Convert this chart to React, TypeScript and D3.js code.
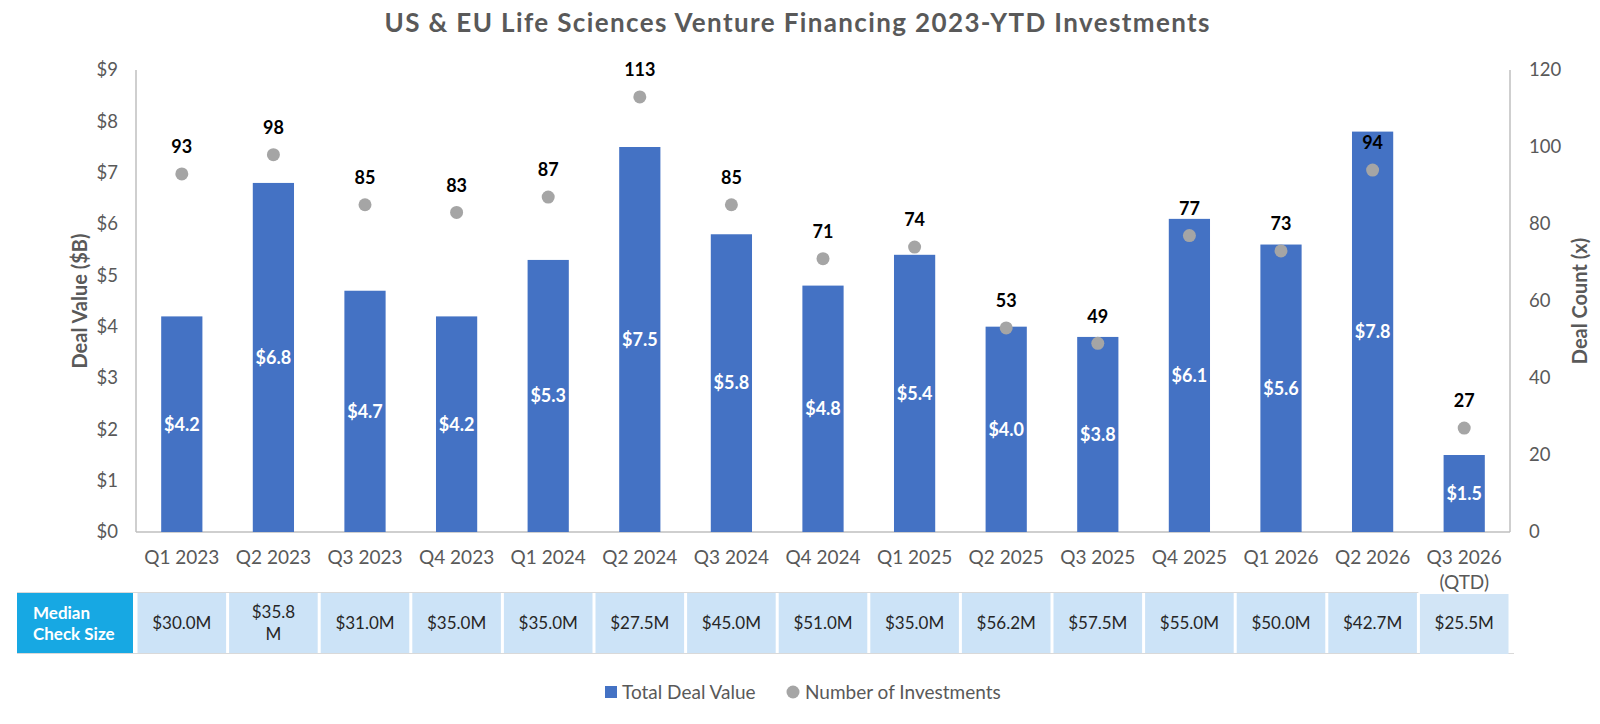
import React from 'react';
import { scaleBand, scaleLinear, range } from 'd3';

const quarters = [
  'Q1 2023', 'Q2 2023', 'Q3 2023', 'Q4 2023', 'Q1 2024', 'Q2 2024', 'Q3 2024', 'Q4 2024',
  'Q1 2025', 'Q2 2025', 'Q3 2025', 'Q4 2025', 'Q1 2026', 'Q2 2026', 'Q3 2026\n(QTD)',
];
const dealValue = [4.2, 6.8, 4.7, 4.2, 5.3, 7.5, 5.8, 4.8, 5.4, 4.0, 3.8, 6.1, 5.6, 7.8, 1.5];
const dealCount = [93, 98, 85, 83, 87, 113, 85, 71, 74, 53, 49, 77, 73, 94, 27];
const medianCheck = [
  '$30.0M', '$35.8\nM', '$31.0M', '$35.0M', '$35.0M', '$27.5M', '$45.0M', '$51.0M',
  '$35.0M', '$56.2M', '$57.5M', '$55.0M', '$50.0M', '$42.7M', '$25.5M',
];
const leftTicks = range(0, 10);
const rightTicks = range(0, 121, 20);

const W = 1600;
const H = 724;
const FONT = 'Lato, "Open Sans", sans-serif';
const GRAY = '#595959';
const BAR = '#4472C4';
const DOT = '#A5A5A5';

const App: React.FC = () => {
  const left = 136;
  const right = 1510;
  const top = 70;
  const bottom = 532;

  const x = scaleBand<string>().domain(quarters).range([left, right]).paddingInner(0.55).paddingOuter(0.275);
  const yL = scaleLinear().domain([0, 9]).range([bottom, top]);
  const yR = scaleLinear().domain([0, 120]).range([bottom, top]);
  const step = x.step();
  const bw = x.bandwidth();
  const cx = (q: string) => (x(q) as number) + bw / 2;

  const tableTop = 593;
  const tableH = 60;

  return (
    <svg width={W} height={H} style={{ position: 'absolute', left: 0, top: 0, background: '#fff' }} fontFamily={FONT}>
      <text x={797} y={32} textAnchor="middle" fontSize={26} fontWeight="bold" fill={GRAY} textLength={825}>
        US &amp; EU Life Sciences Venture Financing 2023-YTD Investments
      </text>

      {/* axes frame */}
      <line x1={left} x2={left} y1={top} y2={bottom} stroke="#BFBFBF" strokeWidth={1.5} />
      <line x1={right} x2={right} y1={top} y2={bottom} stroke="#BFBFBF" strokeWidth={1.5} />
      <line x1={left} x2={right} y1={bottom} y2={bottom} stroke="#BFBFBF" strokeWidth={1.5} />

      {leftTicks.map(t => (
        <text key={t} x={118} y={yL(t)} dy="0.35em" textAnchor="end" fontSize={18.5} fill={GRAY}>
          ${t}
        </text>
      ))}
      {rightTicks.map(t => (
        <text key={t} x={1529} y={yR(t)} dy="0.35em" textAnchor="start" fontSize={18.5} fill={GRAY}>
          {t}
        </text>
      ))}
      <text transform={`translate(80,${(top + bottom) / 2}) rotate(-90)`} textAnchor="middle" dy="0.35em" fontSize={20} fontWeight="bold" fill={GRAY}>
        Deal Value ($B)
      </text>
      <text transform={`translate(1580,${(top + bottom) / 2}) rotate(-90)`} textAnchor="middle" dy="0.35em" fontSize={20} fontWeight="bold" fill={GRAY}>
        Deal Count (x)
      </text>

      {/* bars */}
      {quarters.map((q, i) => (
        <g key={q}>
          <rect x={x(q)} y={yL(dealValue[i])} width={bw} height={bottom - yL(dealValue[i])} fill={BAR} />
          <text x={cx(q)} y={(yL(dealValue[i]) + bottom) / 2} dy="0.35em" textAnchor="middle" fontSize={18} fontWeight="bold" fill="#fff">
            ${dealValue[i].toFixed(1)}
          </text>
        </g>
      ))}

      {/* deal count dots */}
      {quarters.map((q, i) => (
        <g key={q}>
          <circle cx={cx(q)} cy={yR(dealCount[i])} r={6.5} fill={DOT} />
          <text x={cx(q)} y={yR(dealCount[i]) - 27} dy="0.35em" textAnchor="middle" fontSize={18} fontWeight="bold" fill="#000">
            {dealCount[i]}
          </text>
        </g>
      ))}

      {/* category labels */}
      {quarters.map(q => (
        <text key={q} x={cx(q)} y={557} textAnchor="middle" fontSize={19} fill={GRAY}>
          {q.split('\n').map((line, k) => (
            <tspan key={k} x={cx(q)} dy={k === 0 ? '0.35em' : '1.35em'}>{line}</tspan>
          ))}
        </text>
      ))}

      {/* median check size table */}
      <line x1={17} x2={x(quarters[quarters.length - 1]) as number - (step - bw) / 2} y1={tableTop - 0.5} y2={tableTop - 0.5} stroke="#D9D9D9" />
      <line x1={17} x2={right + 4} y1={tableTop + tableH + 0.5} y2={tableTop + tableH + 0.5} stroke="#D9D9D9" />
      <rect x={17} y={tableTop} width={116} height={tableH} fill="#17A8E3" />
      <text x={33} y={tableTop + 20} dy="0.35em" fontSize={17} fontWeight="bold" fill="#fff">Median</text>
      <text x={33} y={tableTop + 41} dy="0.35em" fontSize={17} fontWeight="bold" fill="#fff">Check Size</text>
      {quarters.map((q, i) => {
        const x0 = (x(q) as number) - (step - bw) / 2;
        const lines = medianCheck[i].split('\n');
        const last = i === quarters.length - 1;
        return (
          <g key={q}>
            <rect x={x0 + 1.5} y={last ? tableTop + 1 : tableTop} width={step - 3} height={tableH} fill={last ? '#D2E5F6' : '#CCE3F7'} />
            <text x={cx(q)} y={tableTop + tableH / 2 - (lines.length - 1) * 10.5} textAnchor="middle" fontSize={17} fill="#262626">
              {lines.map((line, k) => (
                <tspan key={k} x={cx(q)} dy={k === 0 ? '0.35em' : '1.25em'}>{line}</tspan>
              ))}
            </text>
          </g>
        );
      })}

      {/* legend */}
      <rect x={605} y={686} width={12} height={12} fill={BAR} />
      <text x={622} y={692} dy="0.35em" fontSize={19} fill={GRAY}>Total Deal Value</text>
      <circle cx={793} cy={692} r={6.5} fill={DOT} />
      <text x={805} y={692} dy="0.35em" fontSize={19} fill={GRAY}>Number of Investments</text>
    </svg>
  );
};

export default App;
